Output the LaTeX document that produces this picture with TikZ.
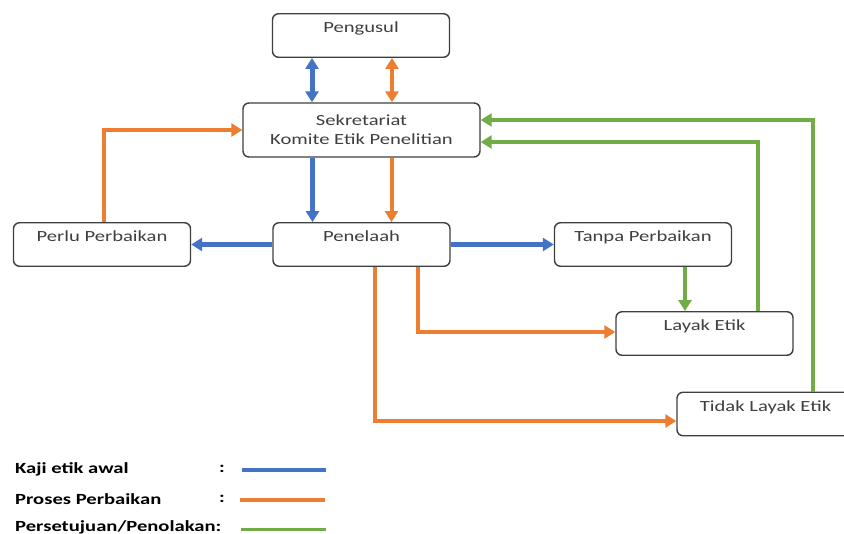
\documentclass[tikz,border=0pt]{standalone}
\usepackage{fontspec}
\setmainfont[FakeStretch=1.33]{Carlito}
\usetikzlibrary{arrows.meta}

\definecolor{kajiblue}{HTML}{4472C4}
\definecolor{prosesorange}{HTML}{ED7D31}
\definecolor{setujugreen}{HTML}{70AD47}
\definecolor{boxgrey}{HTML}{3F3F3F}

\tikzset{
  kotak/.style={draw=boxgrey,line width=1.4pt,rounded corners=6pt,fill=white,
    minimum width=177pt,minimum height=43.5pt,inner sep=0pt,
    text=boxgrey,font=\fontsize{15.5}{20}\selectfont,text height=8pt,text depth=13pt},
  kotakbesar/.style={kotak,minimum width=237pt,minimum height=54pt,
    text height=,text depth=,align=center},
  kaji/.style={draw=kajiblue,line width=5pt},
  proses/.style={draw=prosesorange,line width=4pt},
  setuju/.style={draw=setujugreen,line width=3.5pt},
  ket/.style={anchor=west,inner sep=0pt,font=\bfseries\fontsize{15.5}{17}\selectfont},
}

\begin{document}
\begin{tikzpicture}[x=1pt,y=-1pt,>={Triangle[length=11pt,width=13pt]}]
\clip (0,0) rectangle (844,534);
\def\panah#1#2#3{\draw[#3] (#1) -- (#2);}
\node[kotak] at (361,35.5) (pengusul) {Pengusul};
\node[kotakbesar] at (361.5,130) (sekretariat) {Sekretariat\\[-1pt]Komite Etik Penelitian};
\node[kotak] at (361.5,244.5) (penelaah) {Penelaah};
\node[kotak] at (102,244.5) (perlu) {Perlu Perbaikan};
\node[kotak] at (643,244.5) (tanpa) {Tanpa Perbaikan};
\node[kotak] at (704.5,333.5) (layak) {Layak Etik};
\node[kotak] at (765.5,414) (tidak) {Tidak Layak Etik};

\panah{[xshift=-49pt]pengusul.south}{[xshift=-49pt]pengusul.south |- sekretariat.north}{kaji,<->}
\panah{[xshift=31pt]pengusul.south}{[xshift=31pt]pengusul.south |- sekretariat.north}{proses,<->}
\panah{[xshift=-49pt]sekretariat.south}{[xshift=-49pt]sekretariat.south |- penelaah.north}{kaji,->}
\panah{[xshift=30pt]sekretariat.south}{[xshift=30pt]sekretariat.south |- penelaah.north}{proses,->}
\panah{penelaah.west}{perlu.east}{kaji,->}
\panah{penelaah.east}{tanpa.east -| tanpa.west}{kaji,->}
\panah{[xshift=42pt]tanpa.south}{[xshift=42pt]tanpa.south |- layak.north}{setuju,->}

\draw[proses,->] ([xshift=2pt]perlu.north) |- (sekretariat.west);
\draw[proses,->] ([xshift=56.5pt]penelaah.south) |- ([yshift=1.5pt]layak.west);
\draw[proses,->] ([xshift=13.5pt]penelaah.south) |- ([yshift=-7pt]tidak.west);
\draw[setuju,->] ([xshift=53.5pt]layak.north) |- ([yshift=-12pt]sekretariat.east);
\draw[setuju,->] ([xshift=47.5pt]tidak.north) |- ([yshift=10pt]sekretariat.east);

\node[ket] at (15,469) (ketkaji) {Kaji etik awal};
\node[ket] at (15,499) (ketproses) {Proses Perbaikan};
\node[ket] at (15,527.5) (ketsetuju) {Persetujuan/Penolakan:};
\node[ket] at (219,469) (titik1) {:};
\node[ket] at (219,499) (titik2) {:};
\coordinate (kaji1) at (242,470.5);
\coordinate (kaji2) at (326,470.5);
\coordinate (proses1) at (240,500);
\coordinate (proses2) at (325,500);
\coordinate (setuju1) at (241,529.5);
\coordinate (setuju2) at (326,529.5);
\draw[kaji,line width=4pt] (kaji1) -- (kaji2);
\draw[proses,line width=3.5pt] (proses1) -- (proses2);
\draw[setuju,line width=3pt] (setuju1) -- (setuju2);
\end{tikzpicture}
\end{document}
